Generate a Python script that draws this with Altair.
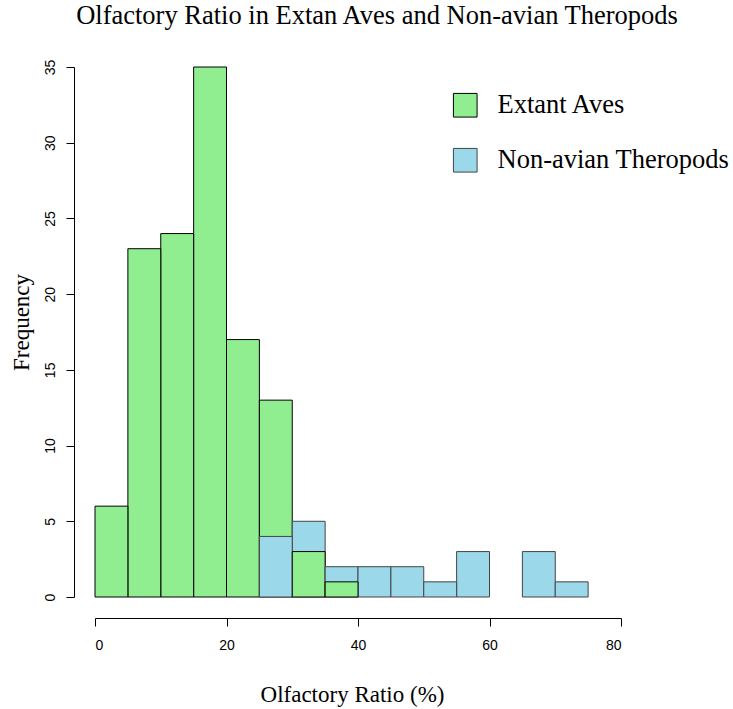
import altair as alt
import pandas as pd

bin_starts = [0, 5, 10, 15, 20, 25, 30, 35, 40, 45, 50, 55, 60, 65, 70]
bin_width = 5
aves_counts = [6, 23, 24, 35, 17, 13, 3, 1, 0, 0, 0, 0, 0, 0, 0]
theropod_counts = [0, 0, 0, 0, 0, 4, 5, 2, 2, 2, 1, 3, 0, 3, 1]
groups = ["Extant Aves", "Non-avian Theropods"]
x_ticks = [0, 20, 40, 60, 80]
y_ticks = [0, 5, 10, 15, 20, 25, 30, 35]

rows = []
for i, s in enumerate(bin_starts):
    pair = [(groups[0], aves_counts[i]), (groups[1], theropod_counts[i])]
    # taller bar first so the shorter one is drawn on top
    pair.sort(key=lambda p: -p[1])
    for g, c in pair:
        if c > 0:
            rows.append({"start": s, "end": s + bin_width, "count": c, "group": g})
df = pd.DataFrame(rows)

serif = "Liberation Serif"
sans = "Liberation Sans"

chart = alt.Chart(df).mark_bar(strokeWidth=1).encode(
    x=alt.X("start:Q",
            scale=alt.Scale(domain=[0, 80], nice=False, zero=False),
            axis=alt.Axis(values=x_ticks, title="Olfactory Ratio (%)", offset=21,
                          labelPadding=12, titlePadding=31, titleX=257)),
    x2="end:Q",
    y=alt.Y("count:Q",
            scale=alt.Scale(domain=[0, 35], nice=False),
            axis=alt.Axis(values=y_ticks, title="Frequency", offset=21,
                          labelAngle=270, labelAlign="center", labelBaseline="bottom",
                          labelPadding=9, titlePadding=10, titleY=255)),
    y2=alt.datum(0),
    fill=alt.Fill("group:N",
                  scale=alt.Scale(domain=groups, range=["#90EE90", "#9BD9EA"]),
                  legend=alt.Legend(title=None, orient="none", legendX=357, legendY=25,
                                    symbolType="square", symbolSize=560,
                                    symbolStrokeWidth=1, symbolOpacity=1,
                                    labelFont=serif, labelFontSize=26.5, labelColor="black",
                                    labelOffset=19, rowPadding=26, padding=0,
                                    labelLimit=400)),
    stroke=alt.Stroke("group:N",
                      scale=alt.Scale(domain=groups, range=["#000000", "#444444"]),
                      legend=None),
    order=alt.Order("count:Q", sort="descending"),
).properties(
    width=526,
    height=530,
    background="white",
    padding={"left": 95, "top": 67, "right": 112, "bottom": 112},
    autosize=alt.AutoSizeParams(type="none"),
    title=alt.TitleParams("Olfactory Ratio in Extan Aves and Non-avian Theropods",
                          font=serif, fontSize=26.5, fontWeight="normal", color="black",
                          anchor="middle", dx=19, offset=30),
).configure_view(
    stroke=None
).configure_axis(
    grid=False,
    domainColor="black",
    tickColor="black",
    domainWidth=1,
    tickWidth=1,
    tickSize=8,
    labelFont=sans,
    labelFontSize=14,
    labelColor="black",
    titleFont=serif,
    titleFontSize=23,
    titleFontWeight="normal",
    titleColor="black",
)

chart.save("out.html", embed_options={"renderer": "svg", "actions": False})
